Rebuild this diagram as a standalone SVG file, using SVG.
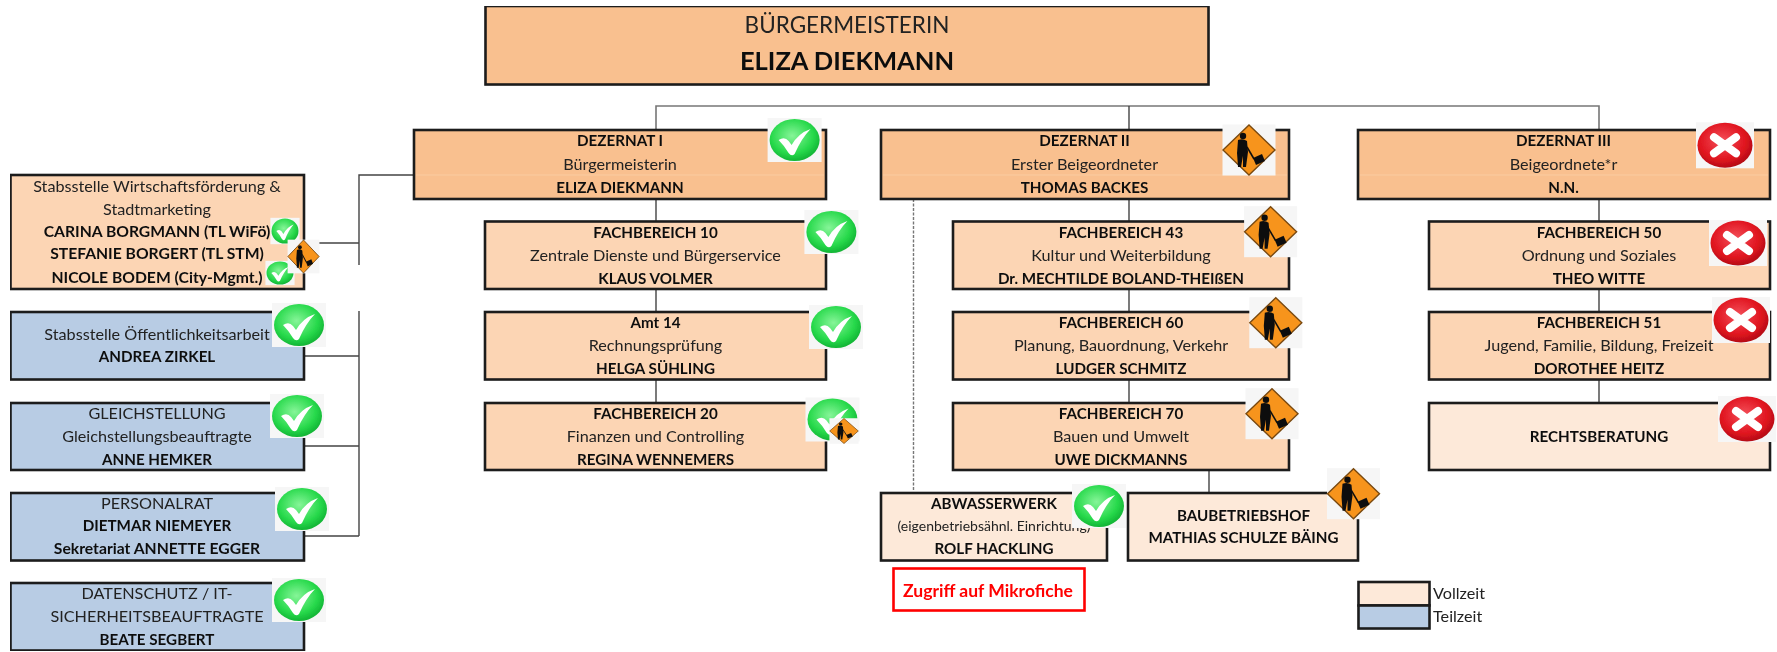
<svg xmlns="http://www.w3.org/2000/svg" width="1777" height="652" viewBox="0 0 1777 652">
<style>
text{font-family:Lato,"Open Sans","Liberation Sans",sans-serif;fill:#222;text-anchor:middle;font-size:16.200px}
.b{font-weight:700;fill:#111;font-size:15.200px}
.w{font-size:15.700px}
.box{stroke:#1c1c1c;stroke-width:2.600}
.top{fill:#F9C08F}.fb{fill:#FCD5B4}.lt{fill:#FDE9D9}.bl{fill:#B8CCE4}
.c{fill:none;stroke:#444;stroke-width:1.400}
.bus{fill:none;stroke:#777;stroke-width:1.600}
.sep{stroke:#FBCFA6;stroke-width:.8}
</style>
<defs>
<radialGradient id="gg" cx="45%" cy="40%" r="60%"><stop offset="0" stop-color="#86F598"/><stop offset=".7" stop-color="#27D94B"/><stop offset="1" stop-color="#12B535"/></radialGradient>
<radialGradient id="rg" cx="45%" cy="40%" r="60%"><stop offset="0" stop-color="#F4505A"/><stop offset=".7" stop-color="#E0141F"/><stop offset="1" stop-color="#B50E16"/></radialGradient>
<g id="ok"><rect x="-27" y="-22" width="54" height="44" fill="#f6f6f6"/><ellipse rx="25" ry="21" fill="url(#gg)"/><path d="M-16 0Q-10-4-6 1L-3 5Q4-7 16-11Q7-2 0 14Q-3 17-6 13Q-10 6-16 0Z" fill="#fff"/></g>
<g id="no"><rect x="-29" y="-23" width="58" height="46" fill="#f6f6f6"/><ellipse rx="27.500" ry="22.500" fill="url(#rg)"/><path d="M-11-8L11 8M11-8L-11 8" stroke="#fff" stroke-width="8" stroke-linecap="round"/></g>
<g id="wk"><rect x="-26.500" y="-25.500" width="53" height="51" fill="#f6f6f6"/><path d="M0-25L26 0L0 25L-26 0Z" fill="#F7941D" stroke="#7a4a10" stroke-width="1.400"/><circle cx="-6" cy="-14" r="3.200" fill="#111"/><path d="M-11-10Q-6-12-2-9L-1 2L-3 17L-6 17L-6 6L-8 17L-11 17L-12 3Z" fill="#111"/><path d="M-2-3L5 9" stroke="#111" stroke-width="1.600"/><path d="M4 8L13 4L16 11L7 15Z" fill="#111"/></g>
<filter id="soft" x="0" y="0" width="100%" height="100%"><feGaussianBlur stdDeviation="0.5"/></filter>
</defs>
<g filter="url(#soft)">
<g id="connectors">
<path class="bus" d="M656 129V106H1599V129"/>
<path class="c" d="M1129 106V129"/>
<path class="c" d="M656 199V221M656 289V311M656 380V402"/>
<path class="c" d="M1129 199V221M1129 289V311M1129 380V402"/>
<path class="c" d="M1599 199V221M1599 289V311M1599 380V402"/>
<path class="c" d="M1209 470V492"/>
<path class="c" stroke-dasharray="3 1.500" d="M913.500 199V491" style="stroke:#777"/>
<path class="c" d="M414 175H359V265M319 243H359"/>
<path class="c" d="M359 311V536M304 356H359M304 446H359M304 536H359"/>
</g>
<g id="buergermeisterin"><rect class="box top" x="485.500" y="6" width="723" height="78.500"/><text x="847" y="33" style="font-size:22.500px">BÜRGERMEISTERIN</text><text class="b" x="847" y="70" style="font-size:25.500px">ELIZA DIEKMANN</text></g>

<g id="dezernat1"><rect class="box top" x="414" y="130" width="412" height="69"/><path class="sep" d="M416 175H824"/><text class="b" x="620" y="146">DEZERNAT I</text><text x="620" y="169.500">Bürgermeisterin</text><text class="b" x="620" y="192.500">ELIZA DIEKMANN</text><use href="#ok" x="794.600" y="140"/></g>
<g id="dezernat2"><rect class="box top" x="881" y="130" width="408" height="69"/><path class="sep" d="M883 175H1287"/><text class="b" x="1084.500" y="146">DEZERNAT II</text><text x="1084.500" y="169.500">Erster Beigeordneter</text><text class="b" x="1084.500" y="192.500">THOMAS BACKES</text><use href="#wk" x="1249" y="150"/></g>
<g id="dezernat3"><rect class="box top" x="1358" y="130" width="412" height="69"/><path class="sep" d="M1360 175H1768"/><text class="b" x="1563.500" y="146">DEZERNAT III</text><text x="1563.500" y="169.500">Beigeordnete*r</text><text class="b" x="1563.500" y="192.500">N.N.</text><use href="#no" x="1725" y="145.300"/></g>

<g id="fb10"><rect class="box fb" x="485" y="221.500" width="341" height="67.500"/><text class="b" x="655.500" y="238">FACHBEREICH 10</text><text x="655.500" y="261">Zentrale Dienste und Bürgerservice</text><text class="b" x="655.500" y="284">KLAUS VOLMER</text><use href="#ok" x="831.400" y="232"/></g>
<g id="amt14"><rect class="box fb" x="485" y="312" width="341" height="67.500"/><text class="b" x="655.500" y="328">Amt 14</text><text x="655.500" y="350.500">Rechnungsprüfung</text><text class="b" x="655.500" y="373.500">HELGA SÜHLING</text><use href="#ok" x="836" y="327"/></g>
<g id="fb20"><rect class="box fb" x="485" y="403" width="341" height="67"/><text class="b" x="655.500" y="419">FACHBEREICH 20</text><text x="655.500" y="441.500">Finanzen und Controlling</text><text class="b" x="655.500" y="464.500">REGINA WENNEMERS</text><use href="#ok" x="832.500" y="419.500"/><use href="#wk" transform="translate(844 431) scale(.55 .5)"/></g>

<g id="fb43"><rect class="box fb" x="953" y="221.500" width="336" height="67.500"/><text class="b" x="1121" y="238">FACHBEREICH 43</text><text x="1121" y="261">Kultur und  Weiterbildung</text><text class="b" x="1121" y="284">Dr. MECHTILDE BOLAND-THEIßEN</text><use href="#wk" x="1270.600" y="231.700"/></g>
<g id="fb60"><rect class="box fb" x="953" y="312" width="336" height="67.500"/><text class="b" x="1121" y="328">FACHBEREICH 60</text><text x="1121" y="350.500">Planung, Bauordnung, Verkehr</text><text class="b" x="1121" y="373.500">LUDGER SCHMITZ</text><use href="#wk" x="1275.800" y="322.700"/></g>
<g id="fb70"><rect class="box fb" x="953" y="403" width="336" height="67"/><text class="b" x="1121" y="419">FACHBEREICH 70</text><text x="1121" y="441.500">Bauen und Umwelt</text><text class="b" x="1121" y="464.500">UWE DICKMANNS</text><use href="#wk" x="1272" y="413.700"/></g>

<g id="fb50"><rect class="box fb" x="1429" y="221.500" width="341" height="67.500"/><text class="b" x="1599" y="238">FACHBEREICH 50</text><text x="1599" y="261">Ordnung und Soziales</text><text class="b" x="1599" y="284">THEO WITTE</text><use href="#no" x="1738" y="243"/></g>
<g id="fb51"><rect class="box fb" x="1429" y="312" width="341" height="67.500"/><text class="b" x="1599" y="328">FACHBEREICH 51</text><text x="1599" y="350.500">Jugend, Familie, Bildung, Freizeit</text><text class="b" x="1599" y="373.500">DOROTHEE HEITZ</text><use href="#no" x="1741" y="320"/></g>
<g id="rechtsberatung"><rect class="box lt" x="1429" y="403" width="341" height="67"/><text class="b" x="1599" y="441.500">RECHTSBERATUNG</text><use href="#no" x="1747" y="419"/></g>

<g id="abwasserwerk"><rect class="box lt" x="881" y="493" width="226" height="67.500"/><text class="b" x="994" y="509">ABWASSERWERK</text><text x="994" y="531" style="font-size:14px">(eigenbetriebsähnl. Einrichtung)</text><text class="b" x="994" y="553.500">ROLF HACKLING</text><use href="#ok" x="1099" y="506"/></g>
<g id="baubetriebshof"><rect class="box lt" x="1128" y="493" width="230" height="67.500"/><text class="b" x="1243.500" y="521">BAUBETRIEBSHOF</text><text class="b" x="1243.500" y="543">MATHIAS SCHULZE BÄING</text><use href="#wk" x="1353.500" y="493.700"/></g>
<g id="mikrofiche"><rect x="893.500" y="568.500" width="191" height="42" fill="#fff" stroke="#f00" stroke-width="2.600"/><text class="b" x="988" y="597" textLength="170" lengthAdjust="spacingAndGlyphs" style="fill:#f00;font-size:16.500px">Zugriff auf Mikrofiche</text></g>

<g id="wirtschaft"><rect class="box fb" x="10.500" y="175" width="293.500" height="114"/><text x="157" y="191.500">Stabsstelle Wirtschaftsförderung &amp;</text><text x="157" y="215">Stadtmarketing</text><text class="b w" x="157" y="237">CARINA BORGMANN (TL WiFö)</text><text class="b w" x="157" y="259">STEFANIE BORGERT (TL STM)</text><text class="b w" x="157" y="282.500">NICOLE BODEM (City-Mgmt.)</text><use href="#ok" transform="translate(285 231) scale(.54 .6)"/><use href="#ok" transform="translate(280 273) scale(.54 .55)"/><use href="#wk" transform="translate(303.500 256.500) scale(.6 .66)"/></g>
<g id="oeffentlichkeit"><rect class="box bl" x="10.500" y="312" width="293.500" height="67.500"/><text x="157" y="340">Stabsstelle Öffentlichkeitsarbeit</text><text class="b" x="157" y="362">ANDREA ZIRKEL</text><use href="#ok" x="299" y="325"/></g>
<g id="gleichstellung"><rect class="box bl" x="10.500" y="403" width="293.500" height="67"/><text x="157" y="419">GLEICHSTELLUNG</text><text x="157" y="441.500">Gleichstellungsbeauftragte</text><text class="b" x="157" y="464.500">ANNE HEMKER</text><use href="#ok" x="297" y="416"/></g>
<g id="personalrat"><rect class="box bl" x="10.500" y="493" width="293.500" height="67.500"/><text x="157" y="509">PERSONALRAT</text><text class="b" x="157" y="531">DIETMAR NIEMEYER</text><text class="b w" x="157" y="554">Sekretariat ANNETTE EGGER</text><use href="#ok" x="302" y="509"/></g>
<g id="datenschutz"><rect class="box bl" x="10.500" y="583" width="293.500" height="67.500"/><text x="157" y="599">DATENSCHUTZ / IT-</text><text x="157" y="622">SICHERHEITSBEAUFTRAGTE</text><text class="b" x="157" y="645">BEATE SEGBERT</text><use href="#ok" x="299" y="600"/></g>

<g id="legende"><rect class="box lt" x="1358.500" y="582" width="71" height="23.500"/><rect class="box bl" x="1358.500" y="605.500" width="71" height="23"/><text x="1433" y="599" style="text-anchor:start">Vollzeit</text><text x="1433" y="622" style="text-anchor:start">Teilzeit</text></g>
</g>
</svg>
